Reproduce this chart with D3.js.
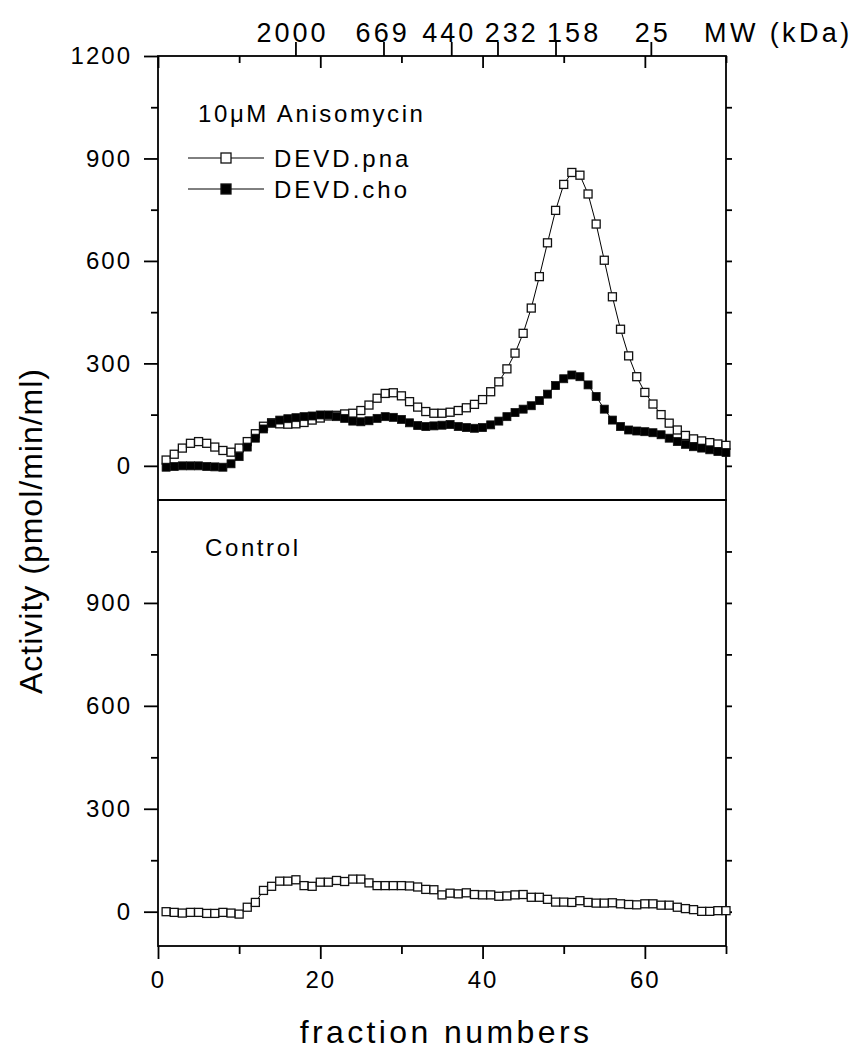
<!DOCTYPE html>
<html><head><meta charset="utf-8">
<script src="https://cdn.jsdelivr.net/npm/d3@7"></script>
<style>
body{margin:0;background:#fff}
svg{display:block}
text{font-family:"Liberation Sans",Arial,Helvetica,sans-serif;fill:#000}
</style>
</head><body><svg id="c" width="853" height="1052"></svg>
<script>
// ---------- data ----------
const fractions = [1,2,3,4,5,6,7,8,9,10,11,12,13,14,15,16,17,18,19,20,21,22,23,24,25,26,27,28,29,30,31,32,33,34,35,36,37,38,39,40,41,42,43,44,45,46,47,48,49,50,51,52,53,54,55,56,57,58,59,60,61,62,63,64,65,66,67,68,69,70];
const pnaAniso = [17,34,52,66,71,66,55,45,40,52,71,94,116,126,123,122,123,127,134,140,146,148,152,154,162,178,198,212,214,205,188,172,159,154,154,157,162,170,180,194,217,246,284,330,388,462,554,653,748,824,859,851,796,708,602,495,400,322,261,215,181,150,125,105,89,79,73,68,64,60];
const choAniso = [-4,-2,0,0,0,-2,-3,-4,6,27,55,81,108,125,134,138,141,144,146,149,149,144,139,131,129,132,139,144,142,136,126,118,115,117,119,121,115,112,110,112,120,131,144,156,166,176,191,210,235,255,266,261,237,203,166,134,115,105,102,100,97,91,81,71,63,56,52,47,42,39];
const pnaControl = [0,-2,-4,-2,-2,-5,-5,-2,-4,-7,13,27,62,74,89,89,93,76,74,86,86,91,88,95,95,84,76,76,76,76,75,72,65,64,49,54,52,55,50,49,49,45,46,49,50,42,42,36,28,28,27,32,27,25,25,26,23,21,20,23,23,19,19,13,9,6,1,1,3,3];
const seriesNames = ["DEVD.pna","DEVD.cho"];
const panelTitles = ["10\u03bcM Anisomycin","Control"];
const yMajorTop = [0,300,600,900,1200];
const yMajorBottom = [0,300,600,900];
const yMinor = [150,450,750,1050];
const yRightTicks = [0,150,300,450,600,750,900,1050];
const xMajor = [0,20,40,60];
const xMinor = [10,30,50,70];
const mwLabels = ["2000","669","440","232","158","25"];
const mwTickAt = [17,27.85,36.2,41.9,49.05,60.8];
const mwLabelAt = [16.4,27.5,35.7,43.4,51.1,60.8];
const xTitle = "fraction numbers";
const yTitle = "Activity (pmol/min/ml)";
const mwTitle = "MW (kDa)";

// ---------- layout ----------
const L = 158, R = 726, T = 56, M = 500, B = 946;
const svg = d3.select("#c");
const x = d3.scaleLinear().domain([0,70]).range([L,R]);
const yTop = d3.scaleLinear().domain([-100,1200]).range([M,T]);
const yBot = d3.scaleLinear().domain([-100,1200]).range([B,M]);
const AX = 1.8;

function styleAxis(g){
  g.select(".domain").remove();
  g.selectAll(".tick line").attr("stroke","#000").attr("stroke-width",AX);
  g.selectAll("text").style("font-size","24px").style("letter-spacing","2px").attr("fill","#000");
}

function leftAxis(y, major){
  svg.append("g").attr("transform",`translate(${L},0)`)
    .call(d3.axisLeft(y).tickValues(major).tickSize(14).tickPadding(12).tickFormat(d3.format("d")))
    .call(styleAxis);
  svg.append("g").attr("transform",`translate(${L},0)`)
    .call(d3.axisLeft(y).tickValues(yMinor).tickSize(7).tickFormat(""))
    .call(styleAxis);
  svg.append("g").attr("transform",`translate(${R},0)`)
    .call(d3.axisRight(y).tickValues(yRightTicks).tickSize(6).tickFormat(""))
    .call(styleAxis);
}
leftAxis(yTop, yMajorTop);
leftAxis(yBot, yMajorBottom);

// top frame ticks (inward)
svg.append("g").attr("transform",`translate(0,${T})`)
  .call(d3.axisBottom(x).tickValues(xMajor).tickSize(12).tickFormat("")).call(styleAxis);
svg.append("g").attr("transform",`translate(0,${T})`)
  .call(d3.axisBottom(x).tickValues(xMinor).tickSize(7).tickFormat("")).call(styleAxis);

// bottom axis
svg.append("g").attr("transform",`translate(0,${B})`)
  .call(d3.axisBottom(x).tickValues(xMajor).tickSize(13).tickPadding(12).tickFormat(d3.format("d")))
  .call(styleAxis);
svg.append("g").attr("transform",`translate(0,${B})`)
  .call(d3.axisBottom(x).tickValues(xMinor).tickSize(8).tickFormat("")).call(styleAxis);

// MW axis (upward ticks above top frame)
const mw = svg.append("g");
mw.selectAll("line").data(mwTickAt).join("line")
  .attr("x1",d=>x(d)).attr("x2",d=>x(d)).attr("y1",T).attr("y2",T-14)
  .attr("stroke","#000").attr("stroke-width",AX);
mw.selectAll("text").data(mwLabels).join("text")
  .attr("x",(d,i)=>x(mwLabelAt[i])+1.5).attr("y",42)
  .attr("text-anchor","middle")
  .style("font-size","27px").style("letter-spacing","3px")
  .text(d=>d);
svg.append("text").attr("x",704).attr("y",42)
  .style("font-size","27px").style("letter-spacing","3.4px").text(mwTitle);

// frames
svg.append("rect").attr("x",L).attr("y",T).attr("width",R-L).attr("height",M-T)
  .attr("fill","none").attr("stroke","#000").attr("stroke-width",AX);
svg.append("rect").attr("x",L).attr("y",M).attr("width",R-L).attr("height",B-M)
  .attr("fill","none").attr("stroke","#000").attr("stroke-width",AX);

// ---------- series ----------
function drawSeries(y, vals, filled){
  const pts = fractions.map((f,i)=>[f, vals[i]]);
  svg.append("path").datum(pts)
    .attr("d", d3.line().x(d=>x(d[0])).y(d=>y(d[1])))
    .attr("fill","none").attr("stroke","#000").attr("stroke-width",1);
  const s = 8;
  svg.append("g").selectAll("rect").data(pts).join("rect")
    .attr("x",d=>x(d[0])-s/2).attr("y",d=>y(d[1])-s/2)
    .attr("width",s).attr("height",s)
    .attr("fill", filled ? "#000" : "#fff")
    .attr("stroke", "#111").attr("stroke-width", filled ? 0.8 : 1.3);
}
drawSeries(yTop, pnaAniso, false);
drawSeries(yTop, choAniso, true);
drawSeries(yBot, pnaControl, false);

// ---------- annotations / legend ----------
svg.append("text").attr("x",198).attr("y",122)
  .style("font-size","24px").style("letter-spacing","2.6px").text(panelTitles[0]);
svg.append("text").attr("x",205).attr("y",556)
  .style("font-size","24px").style("letter-spacing","2.6px").text(panelTitles[1]);

const legY = [158, 189];
seriesNames.forEach((name,i)=>{
  svg.append("line").attr("x1",188).attr("x2",264).attr("y1",legY[i]).attr("y2",legY[i])
    .attr("stroke","#000").attr("stroke-width",1);
  svg.append("rect").attr("x",226-5).attr("y",legY[i]-5).attr("width",10).attr("height",10)
    .attr("fill", i===0 ? "#fff" : "#000").attr("stroke","#111").attr("stroke-width",1.3);
  svg.append("text").attr("x",274).attr("y",legY[i]+8.5)
    .style("font-size","24px").style("letter-spacing","3px").text(name);
});

// axis titles
svg.append("text").attr("x",446).attr("y",1043).attr("text-anchor","middle")
  .style("font-size","32px").style("letter-spacing","3.4px").text(xTitle);
svg.append("text").attr("transform","translate(42,531) rotate(-90)").attr("text-anchor","middle")
  .style("font-size","32px").style("letter-spacing","1px").text(yTitle);
</script>
</body></html>
